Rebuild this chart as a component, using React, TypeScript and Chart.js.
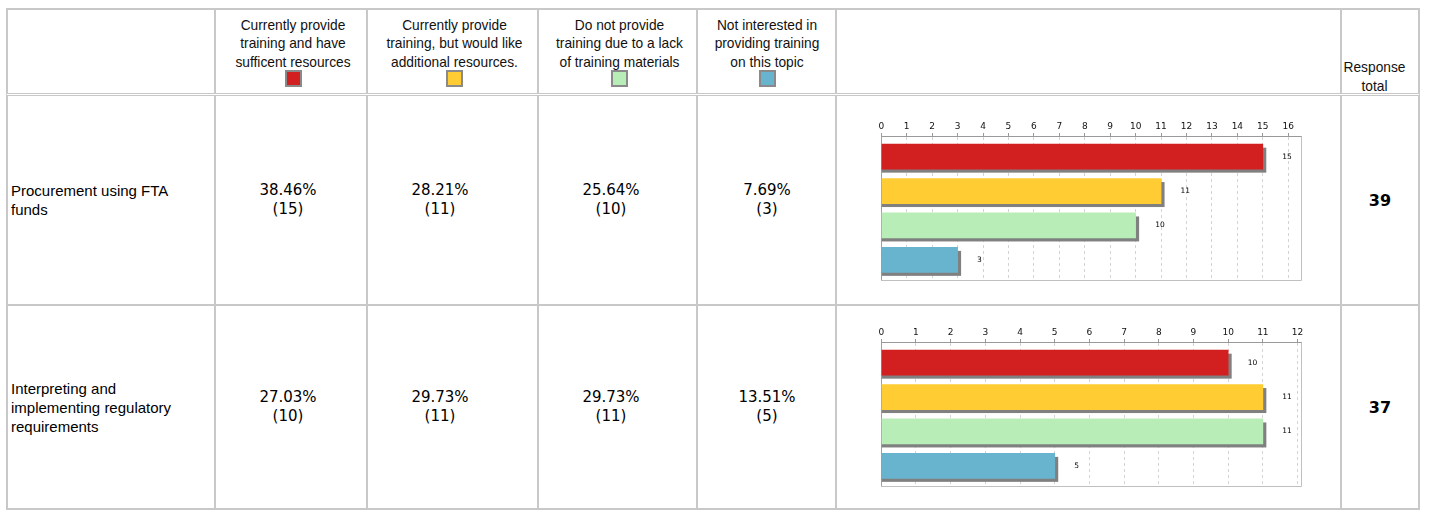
import React, { useEffect, useRef } from 'react';
import { Chart, registerables } from 'chart.js';

Chart.register(...registerables);

// ---- data ----
const categories: string[] = [
  'Currently provide training and have sufficent resources',
  'Currently provide training, but would like additional resources.',
  'Do not provide training due to a lack of training materials',
  'Not interested in providing training on this topic',
];
const categoryHeaderLines: string[][] = [
  ['Currently provide', 'training and have', 'sufficent resources'],
  ['Currently provide', 'training, but would like', 'additional resources.'],
  ['Do not provide', 'training due to a lack', 'of training materials'],
  ['Not interested in', 'providing training', 'on this topic'],
];
const seriesColors: string[] = ['#D21F1F', '#FFCC33', '#B8EDB8', '#68B4CE'];

const rowLabelLines: string[][] = [
  ['Procurement using FTA', 'funds'],
  ['Interpreting and', 'implementing regulatory', 'requirements'],
];
const row1Counts: number[] = [15, 11, 10, 3];
const row2Counts: number[] = [10, 11, 11, 5];
const row1Percents: string[] = ['38.46%', '28.21%', '25.64%', '7.69%'];
const row2Percents: string[] = ['27.03%', '29.73%', '29.73%', '13.51%'];
const responseTotals: number[] = [39, 37];
const row1TickMax = 16;
const row2TickMax = 12;
const row1AxisMax = 16.53;
const row2AxisMax = 12.12;

// ---- layout ----
const BORDER = '#c8c8c8';
const cols: [number, number][] = [
  [7, 214], [215, 366], [367, 537], [538, 696], [697, 835], [836, 1340], [1341, 1418],
];
const headerRow: [number, number] = [9, 93];
const bodyRows: [number, number][] = [[95, 304], [305, 508]];
const headerCenters = [293, 454.5, 619.5, 767];
const valueCenters = [288, 440, 611, 767];

function Cell({ c, r }: { c: [number, number]; r: [number, number] }) {
  return (
    <div
      style={{
        position: 'absolute',
        left: c[0],
        top: r[0],
        width: c[1] - c[0] + 1,
        height: r[1] - r[0] + 1,
        boxSizing: 'border-box',
        border: `1px solid ${BORDER}`,
      }}
    />
  );
}

function BarChart({ values, axisMax, tickMax, top }: { values: number[]; axisMax: number; tickMax: number; top: number }) {
  const ref = useRef<HTMLCanvasElement>(null);
  useEffect(() => {
    const canvas = ref.current!;
    const SH = 3.5;
    const framePlugin = {
      id: 'frameAndShadow',
      beforeDatasetsDraw(chart: any) {
        const { ctx, chartArea } = chart;
        ctx.save();
        const l = Math.round(chartArea.left) + 0.5;
        const r = Math.round(chartArea.right) - 0.5;
        const t = Math.round(chartArea.top) + 0.5;
        const b = Math.round(chartArea.bottom) - 0.5;
        ctx.lineWidth = 1;
        ctx.strokeStyle = '#c0c0c0';
        ctx.beginPath();
        ctx.moveTo(r, t);
        ctx.lineTo(r, b);
        ctx.lineTo(l, b);
        ctx.stroke();
        ctx.strokeStyle = '#a0a0a0';
        ctx.beginPath();
        ctx.moveTo(l, t);
        ctx.lineTo(l, b);
        ctx.stroke();
        ctx.fillStyle = '#808080';
        chart.getDatasetMeta(0).data.forEach((bar: any) => {
          const { x, y, base, height } = bar.getProps(['x', 'y', 'base', 'height'], true);
          ctx.fillRect(base, y - height / 2 + SH, x - base + SH, height);
        });
        ctx.restore();
      },
    };
    const labelPlugin = {
      id: 'valueLabels',
      afterDatasetsDraw(chart: any) {
        const { ctx } = chart;
        ctx.save();
        ctx.font = '7.5px "DejaVu Sans"';
        ctx.fillStyle = '#000';
        ctx.textAlign = 'left';
        ctx.textBaseline = 'middle';
        chart.getDatasetMeta(0).data.forEach((bar: any, i: number) => {
          const { x, y } = bar.getProps(['x', 'y'], true);
          ctx.fillText(String(values[i]), x + 19.5, y);
        });
        ctx.restore();
      },
    };
    const chart = new Chart(canvas, {
      type: 'bar',
      data: {
        labels: categories,
        datasets: [
          {
            data: values.map((v, i) => ({ x: v, y: i })) as any,
            backgroundColor: seriesColors,
            borderWidth: 0,
            barThickness: 25,
          } as any,
        ],
      },
      options: {
        indexAxis: 'y',
        responsive: false,
        animation: false,
        layout: { padding: { left: 15.3, right: 24.3, top: 0, bottom: 14.5 } },
        plugins: { legend: { display: false }, tooltip: { enabled: false } },
        scales: {
          x: {
            type: 'linear',
            position: 'top',
            min: 0,
            max: axisMax,
            afterBuildTicks: (s: any) => {
              const t: { value: number }[] = [];
              for (let v = 0; v <= tickMax; v++) t.push({ value: v });
              s.ticks = t;
            },
            afterFit: (s: any) => {
              s.height = 26;
            },
            ticks: {
              stepSize: 1,
              autoSkip: false,
              maxRotation: 0,
              padding: 1,
              color: '#111',
              font: { family: '"DejaVu Sans"', size: 9 },
            },
            grid: { color: '#d4d4d4', tickColor: '#999', tickLength: 3, lineWidth: 1 },
            border: { display: true, color: '#999', dash: [3, 3] },
          } as any,
          y: {
            type: 'linear',
            min: -0.6,
            max: 3.6,
            reverse: true,
            display: false,
            offset: false,
          } as any,
        },
      },
      plugins: [framePlugin, labelPlugin],
    });
    return () => chart.destroy();
  }, [values, axisMax, tickMax]);
  return (
    <canvas
      ref={ref}
      width={460}
      height={185}
      style={{ position: 'absolute', left: 866, top, width: 460, height: 185 }}
    />
  );
}

export default function App() {
  const rowsCounts = [row1Counts, row2Counts];
  const rowsPercents = [row1Percents, row2Percents];
  return (
    <div
      style={{
        position: 'absolute',
        left: 0,
        top: 0,
        width: 1429,
        height: 510,
        background: '#fff',
        color: '#000',
        fontFamily: '"Liberation Sans", Arial, sans-serif',
      }}
    >
      <div
        style={{
          position: 'absolute',
          left: 6,
          top: 8,
          width: 1414,
          height: 502,
          boxSizing: 'border-box',
          border: `1px solid ${BORDER}`,
        }}
      />
      {cols.map((c, i) => (
        <Cell key={'h' + i} c={c} r={headerRow} />
      ))}
      {bodyRows.map((r, ri) => cols.map((c, ci) => <Cell key={'b' + ri + '-' + ci} c={c} r={r} />))}

      {categoryHeaderLines.map((lines, i) => (
        <div
          key={'hd' + i}
          style={{
            position: 'absolute',
            left: headerCenters[i] - 85,
            width: 170,
            top: 16.5,
            textAlign: 'center',
            fontSize: 13.75,
            lineHeight: '18.7px',
            color: '#111',
          }}
        >
          {lines.map((l, k) => (
            <div key={k}>{l}</div>
          ))}
          <div
            style={{
              display: 'inline-block',
              width: 17,
              height: 17,
              marginTop: -2.5,
              boxSizing: 'border-box',
              border: '2px solid #8a8a8a',
              background: seriesColors[i],
              verticalAlign: 'top',
            }}
          />
        </div>
      ))}
      <div
        style={{
          position: 'absolute',
          left: 1334.5,
          width: 80,
          top: 59,
          textAlign: 'center',
          fontSize: 13.75,
          lineHeight: '18.7px',
          color: '#111',
        }}
      >
        <div>Response</div>
        <div>total</div>
      </div>

      {bodyRows.map((r, ri) => {
        const top = r[0] + 1;
        const height = r[1] - r[0] - 1;
        return (
          <React.Fragment key={'row' + ri}>
            <div
              style={{
                position: 'absolute',
                left: 11,
                width: 200,
                top,
                height,
                display: 'flex',
                flexDirection: 'column',
                justifyContent: 'center',
                fontSize: 15,
                lineHeight: '19px',
              }}
            >
              {rowLabelLines[ri].map((l, k) => (
                <div key={k}>{l}</div>
              ))}
            </div>
            {rowsPercents[ri].map((p, ci) => (
              <div
                key={'v' + ci}
                style={{
                  position: 'absolute',
                  left: valueCenters[ci] - 60,
                  width: 120,
                  top,
                  height,
                  display: 'flex',
                  flexDirection: 'column',
                  justifyContent: 'center',
                  textAlign: 'center',
                  fontFamily: '"DejaVu Sans", Verdana, sans-serif',
                  fontSize: 15,
                  lineHeight: '19px',
                }}
              >
                <div>{p}</div>
                <div>({rowsCounts[ri][ci]})</div>
              </div>
            ))}
            <div
              style={{
                position: 'absolute',
                left: 1342,
                width: 76,
                top,
                height,
                display: 'flex',
                alignItems: 'center',
                justifyContent: 'center',
                fontFamily: '"DejaVu Sans", Verdana, sans-serif',
                fontWeight: 'bold',
                fontSize: 16,
              }}
            >
              {responseTotals[ri]}
            </div>
          </React.Fragment>
        );
      })}

      <BarChart values={row1Counts} axisMax={row1AxisMax} tickMax={row1TickMax} top={110} />
      <BarChart values={row2Counts} axisMax={row2AxisMax} tickMax={row2TickMax} top={316} />
    </div>
  );
}
